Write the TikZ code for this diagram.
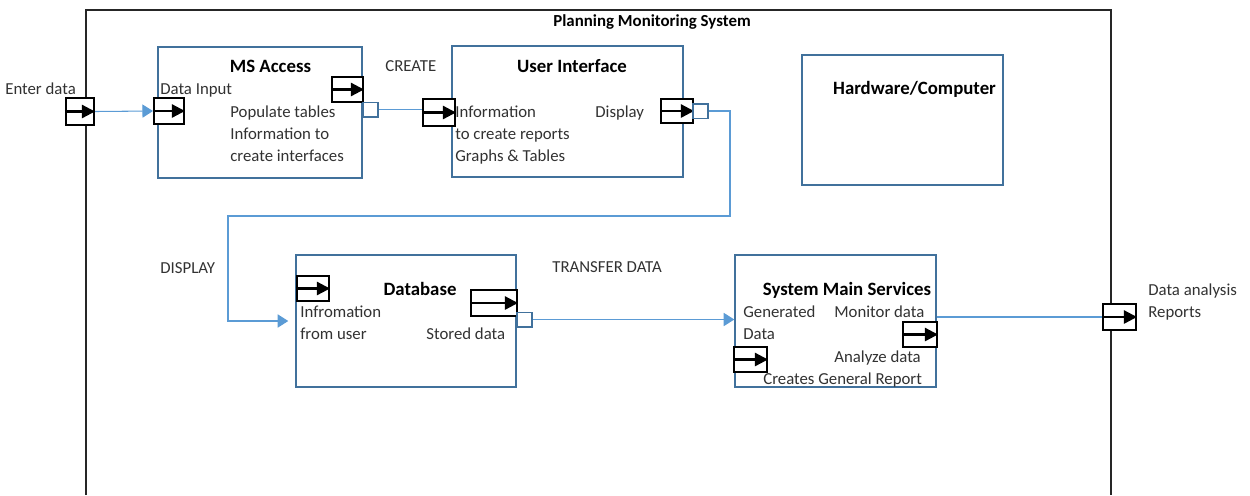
\documentclass[tikz,border=0pt]{standalone}
\usepackage{fontspec}
\setmainfont{Carlito}
\usetikzlibrary{arrows.meta}
\definecolor{boxblue}{RGB}{65,113,156}
\definecolor{linkblue}{RGB}{91,155,213}
\definecolor{txtgray}{RGB}{50,50,50}
\begin{document}
\begin{tikzpicture}[x=0.02cm,y=-0.02cm,
  every node/.style={font=\fontsize{9.55pt}{11pt}\selectfont},
  frameline/.style={draw=black!85, line width=1.2pt},
  block/.style={draw=boxblue, line width=0.85pt, fill=white, rectangle, inner sep=0pt},
  port/.style={draw=black, line width=1.15pt, fill=white, rectangle, inner sep=0pt},
  portarrow/.style={draw=black, line width=1.3pt, -{Triangle[length=7.5pt,width=7.5pt]}},
  tab/.style={draw=boxblue, line width=0.85pt, fill=white, rectangle, inner sep=0pt,
              minimum width=0.3cm, minimum height=0.29cm},
  link/.style={draw=linkblue, line width=0.6pt},
  linkarrow/.style={link, -{Triangle[length=6pt,width=7.5pt]}},
  heading/.style={anchor=base, inner sep=0pt, text=black,
                  font=\fontsize{10.7pt}{12pt}\selectfont\bfseries},
  title/.style={heading, font=\fontsize{9.6pt}{11pt}\selectfont\bfseries},
  label/.style={anchor=base west, inner sep=0pt, text=txtgray}
]
\useasboundingbox (0,0) rectangle (1250,495);

% system boundary, open at the bottom
\draw[frameline] (86,495) -- (86,10) -- (1111,10) -- (1111,495);
\node[title] (ttl) at (652,26) {Planning Monitoring System};

% component blocks
\node[block, minimum width=4.08cm, minimum height=2.62cm] (ms)  at (260,112.5) {};
\node[block, minimum width=4.62cm, minimum height=2.62cm] (ui)  at (567.5,111.5) {};
\node[block, minimum width=4.02cm, minimum height=2.6cm]  (hw)  at (902.5,120) {};
\node[block, minimum width=4.4cm,  minimum height=2.64cm] (db)  at (406,321) {};
\node[block, minimum width=4.02cm, minimum height=2.64cm] (sms) at (835.5,321) {};

% block headings
\node[heading] (msh)  at (270.5,72) {MS Access};
\node[heading] (uih)  at (572,72)   {User Interface};
\node[heading] (hwh)  at (914.5,94) {Hardware/Computer};
\node[heading] (dbh)  at (420,295)  {Database};
\node[heading] (smsh) at (847,295)  {System Main Services};

% ports
\node[port, minimum width=0.56cm, minimum height=0.54cm] (enterp) at (80,111.5) {};
\node[port, minimum width=0.6cm,  minimum height=0.52cm] (msin)   at (169,111) {};
\node[port, minimum width=0.62cm, minimum height=0.5cm]  (msout)  at (347.5,89.5) {};
\node[port, minimum width=0.64cm, minimum height=0.54cm] (uiin)   at (439,112.5) {};
\node[port, minimum width=0.64cm, minimum height=0.48cm] (uiout)  at (677,111) {};
\node[port, minimum width=0.64cm, minimum height=0.5cm]  (dbin)   at (313,288.5) {};
\node[port, minimum width=0.92cm, minimum height=0.52cm] (dbout)  at (494,303) {};
\node[port, minimum width=0.68cm, minimum height=0.5cm]  (smsout) at (920,334.5) {};
\node[port, minimum width=0.66cm, minimum height=0.5cm]  (smsin)  at (750.5,359.5) {};
\node[port, minimum width=0.66cm, minimum height=0.52cm] (repp)   at (1119.5,317) {};
\foreach \p in {enterp,msin,msout,uiin,uiout,dbin,dbout,smsout,smsin,repp}
  \draw[portarrow] (\p.west) -- (\p.east);

% output tabs
\node[tab] (mstab) at (370.5,109.5) {};
\node[tab] (uitab) at (700.5,111) {};
\node[tab] (dbtab) at (524.5,319.5) {};

% connectors
\draw[linkarrow] (enterp.east) -- (msin.west);
\draw[link] (mstab.east) -- (mstab.east -| uiin.west);
\coordinate (turnA) at (730,216);
\coordinate (turnB) at (228,216);
\draw[linkarrow, shorten >=4pt] (uitab.east) -| (turnA) -- (turnB) |- (db.west);
\draw[linkarrow] (dbtab.east) -- (dbtab.east -| sms.west);
\draw[link] (sms.east |- repp.west) -- (repp.west);

% flow labels
\node[label] (lenter)  at (5,94)    {Enter data};
\node[label] (lcreate) at (385,71)  {CREATE};
\node[label] (ldisp)   at (160,273) {DISPLAY};
\node[label] (ltrans)  at (552,272) {TRANSFER DATA};
\node[label] (lrep1)   at (1148,295) {Data analysis};
\node[label] (lrep2)   at (1148,317) {Reports};

% MS Access texts
\node[label] (ms1) at (160,94)  {Data Input};
\node[label] (ms2) at (230,117) {Populate tables};
\node[label] (ms3) at (230,139) {Information to};
\node[label] (ms4) at (230,161) {create interfaces};

% User Interface texts
\node[label] (ui1) at (455,117) {Information};
\node[label] (ui2) at (455,139) {to create reports};
\node[label] (ui3) at (455,161) {Graphs \& Tables};
\node[label] (ui4) at (595,117) {Display};

% Database texts
\node[label] (db1) at (300,317) {Infromation};
\node[label] (db2) at (300,339) {from user};
\node[label] (db3) at (426,339) {Stored data};

% System Main Services texts
\node[label] (sm1) at (743,317) {Generated};
\node[label] (sm2) at (743,339) {Data};
\node[label] (sm3) at (834,317) {Monitor data};
\node[label] (sm4) at (834,362) {Analyze data};
\node[label] (sm5) at (763,384) {Creates General Report};
\end{tikzpicture}
\end{document}
